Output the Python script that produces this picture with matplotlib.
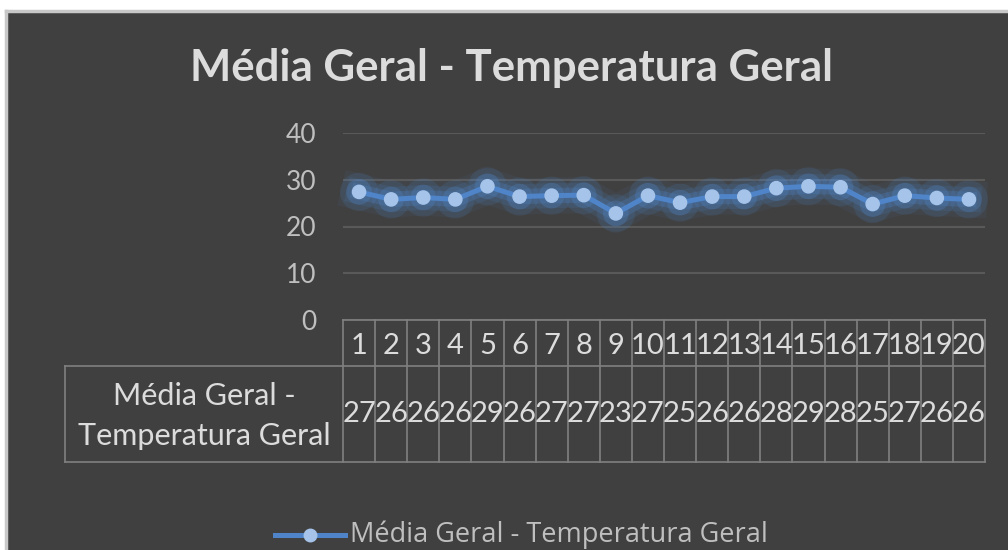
import matplotlib
matplotlib.use("Agg")
import matplotlib.pyplot as plt
import matplotlib.patheffects as pe
from matplotlib.lines import Line2D
from matplotlib.patches import Rectangle
import matplotlib.transforms as mtransforms

title = "Média Geral - Temperatura Geral"
series_name = "Média Geral - Temperatura Geral"
categories = [str(i) for i in range(1, 21)]
values = [27.4, 25.8, 26.2, 25.8, 28.6, 26.4, 26.6, 26.7, 22.8, 26.6,
          25.1, 26.4, 26.4, 28.2, 28.6, 28.4, 24.8, 26.6, 26.1, 25.8]
yticks = [0, 10, 20, 30, 40]

BG = "#404040"
TXT = "#dcdcdc"
TICK = "#bfbfbf"
GRID = "#595959"
TBL = "#808080"
LINE = "#4f85c8"
MARK = "#a6c4ea"

plt.rcParams['font.family'] = ['Lato', 'DejaVu Sans']

W, H = 1008, 550
fig = plt.figure(figsize=(W / 100, H / 100), dpi=100)
fig.patch.set_facecolor("white")


def fx(px):
    return px / W


def fy(py):
    return 1 - py / H


# dark chart area with its light frame on top and left
fig.add_artist(Rectangle((fx(6), 0), 1 - fx(6), fy(11), transform=fig.transFigure,
                         facecolor=BG, edgecolor="none", zorder=0))
fig.add_artist(Line2D([fx(6), 1], [fy(11), fy(11)], transform=fig.transFigure, color="#c8c8c8", lw=2.5))
fig.add_artist(Line2D([fx(6), fx(6)], [0, fy(11)], transform=fig.transFigure, color="#c8c8c8", lw=2.5))

x0, x1 = 343, 985
ytop, ybot = 133, 320
ax = fig.add_axes([fx(x0), fy(ybot), fx(x1 - x0), (ybot - ytop) / H])
ax.set_facecolor("none")
xs = list(range(len(categories)))
ax.set_xlim(-0.5, len(categories) - 0.5)
ax.set_ylim(0, 40)
ax.set_yticks(yticks)
ax.set_yticklabels([str(t) for t in yticks], color=TICK, fontsize=19)
ax.tick_params(axis="y", length=0, pad=19)
ax.set_xticks([])
for s in ax.spines.values():
    s.set_visible(False)
ax.grid(axis="y", color=GRID, lw=1.5)
ax.set_axisbelow(True)

glow = [pe.Stroke(linewidth=26, foreground=LINE, alpha=0.08),
        pe.Stroke(linewidth=18, foreground=LINE, alpha=0.14),
        pe.Stroke(linewidth=11, foreground=LINE, alpha=0.25),
        pe.Normal()]
ax.plot(xs, values, color=LINE, lw=3.6, zorder=3, path_effects=glow, clip_on=False)
ax.plot(xs, values, ls="none", marker="o", ms=9.5, mfc=MARK, mec=MARK, zorder=4,
        clip_on=False,
        path_effects=[pe.Stroke(linewidth=18, foreground=LINE, alpha=0.14),
                      pe.Stroke(linewidth=9, foreground=LINE, alpha=0.3), pe.Normal()])

# data table
r0, r1, r2 = 320, 366, 462
lx = 65
fig.add_artist(Line2D([fx(x0), fx(x1)], [fy(r0), fy(r0)], transform=fig.transFigure, color=TBL, lw=1.2))
fig.add_artist(Line2D([fx(lx), fx(x1)], [fy(r1), fy(r1)], transform=fig.transFigure, color=TBL, lw=1.2))
fig.add_artist(Line2D([fx(lx), fx(x1)], [fy(r2), fy(r2)], transform=fig.transFigure, color=TBL, lw=1.2))
fig.add_artist(Line2D([fx(lx), fx(lx)], [fy(r1), fy(r2)], transform=fig.transFigure, color=TBL, lw=1.2))

trans = mtransforms.blended_transform_factory(ax.transData, fig.transFigure)
for i in range(len(categories) + 1):
    xb = i - 0.5
    ax.add_artist(Line2D([xb, xb], [fy(r0), fy(r2)], transform=trans, color=TBL, lw=1.2, clip_on=False))
for i, c in enumerate(categories):
    ax.text(i, fy((r0 + r1) / 2 + 3), c, transform=trans, ha="center", va="center",
            color=TXT, fontsize=21, clip_on=False)
    ax.text(i, fy((r1 + r2) / 2), "%.0f" % values[i], transform=trans, ha="center", va="center",
            color=TXT, fontsize=21, clip_on=False)
fig.text(fx((lx + x0) / 2), fy((r1 + r2) / 2 + 2), "Média Geral -\nTemperatura Geral",
         ha="center", va="center", color=TXT, fontsize=22, linespacing=1.5)

fig.text(fx(512), fy(68), title, ha="center", va="center", color=TXT,
         fontsize=31.5, fontweight="bold")

# legend
fig.add_artist(Line2D([fx(275), fx(345)], [fy(535), fy(535)], transform=fig.transFigure,
                      color=LINE, lw=3.6))
fig.add_artist(Line2D([fx(310)], [fy(535)], transform=fig.transFigure, ls="none",
                      marker="o", ms=9, mfc=MARK, mec=MARK))
fig.text(fx(350), fy(535), series_name, ha="left", va="center", color=TICK, fontsize=19.5,
         family=['Open Sans', 'DejaVu Sans'])

fig.savefig("out.png", dpi=100, facecolor=fig.get_facecolor())
